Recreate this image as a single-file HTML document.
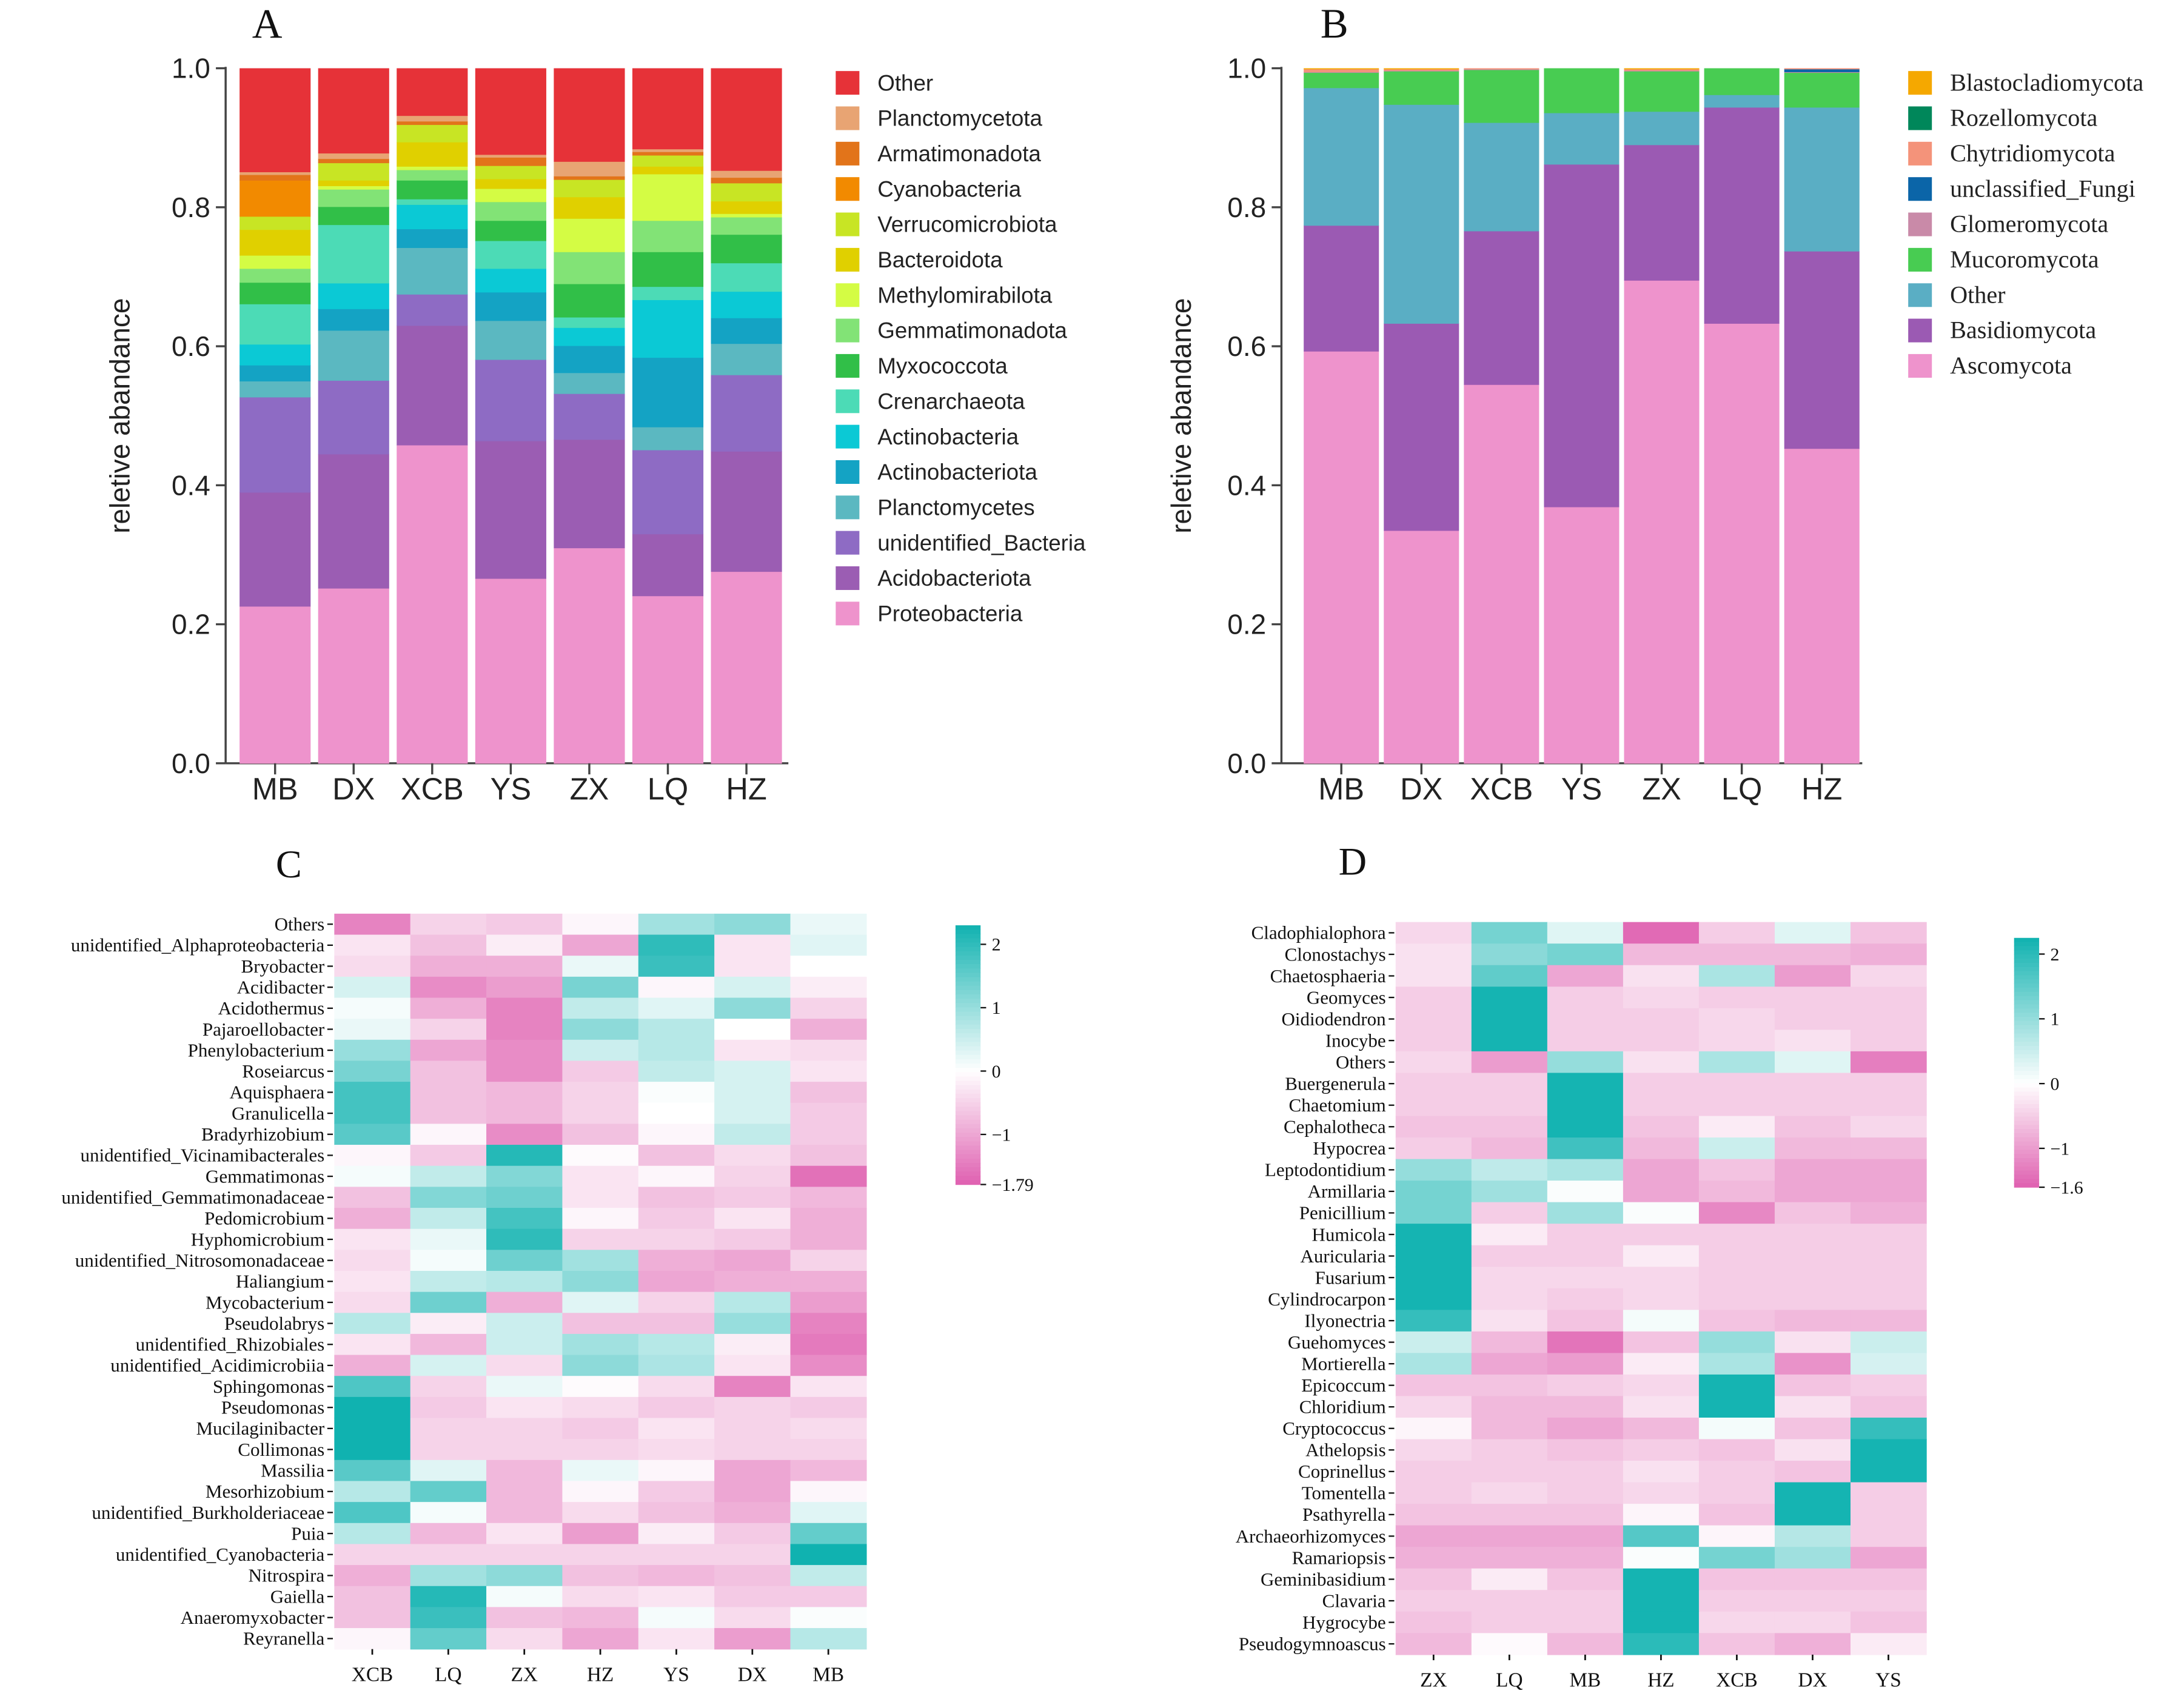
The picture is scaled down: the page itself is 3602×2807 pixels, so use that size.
<!DOCTYPE html>
<html><head><meta charset="utf-8"><style>
html,body{margin:0;padding:0;background:#fff;}
svg{display:block;}
.sans{font-family:"Liberation Sans",Arial,sans-serif;}
.serif{font-family:"Liberation Serif","Times New Roman",serif;}
</style></head><body>
<svg id="fig" xmlns="http://www.w3.org/2000/svg" width="3602" height="2807" viewBox="0 0 1568 1222" preserveAspectRatio="none">
<rect x="0" y="0" width="1568" height="1222" fill="#fff"/>
<g id="pa"></g>
<g id="pb"></g>
<g id="pc"></g>
<g id="pd"></g>
</svg>
<script>
// ---------- Panel A data ----------
const aSamples = ["MB","DX","XCB","YS","ZX","LQ","HZ"];
const aTaxa = ["Proteobacteria","Acidobacteriota","unidentified_Bacteria","Planctomycetes","Actinobacteriota","Actinobacteria","Crenarchaeota","Myxococcota","Gemmatimonadota","Methylomirabilota","Bacteroidota","Verrucomicrobiota","Cyanobacteria","Armatimonadota","Planctomycetota","Other"];
const aColors = ["#ee93cc","#9b5db3","#8e6bc4","#5bb8c1","#14a3c4","#0bc9d5","#4cdbb6","#31bf48","#82e376","#d4fc44","#e0d000","#c8e524","#f28a00","#e2741a","#e8a473","#e63238"];
const aMB  = [.226,.164,.137,.023,.023,.030,.058,.031,.020,.019,.037,.019,.052,.008,.004,.149];
const aDX  = [.252,.193,.106,.072,.031,.037,.084,.026,.025,.005,.008,.025,0,.006,.008,.122];
const aXCB = [.458,.172,.045,.067,.027,.035,.008,.027,.015,.005,.035,.025,0,.005,.008,.068];
const aYS  = [.266,.198,.117,.056,.041,.034,.040,.029,.027,.019,.014,.019,0,.012,.004,.124];
const aZX  = [.310,.156,.066,.030,.039,.026,.015,.048,.046,.048,.031,.025,0,.005,.021,.134];
const aLQ  = [.241,.089,.121,.033,.100,.083,.019,.050,.045,.067,.011,.016,0,.005,.004,.116];
const aHZ  = [.276,.173,.110,.045,.037,.038,.041,.041,.025,.005,.018,.026,0,.008,.010,.147];
const aValues = [aMB,aDX,aXCB,aYS,aZX,aLQ,aHZ];
const yTicks = ["0.0","0.2","0.4","0.6","0.8","1.0"];

// ---------- Panel B data ----------
const bSamples = ["MB","DX","XCB","YS","ZX","LQ","HZ"];
const bTaxa = ["Ascomycota","Basidiomycota","Other","Mucoromycota","Glomeromycota","unclassified_Fungi","Chytridiomycota","Rozellomycota","Blastocladiomycota"];
const bColors = ["#ee93cc","#9b5ab3","#5aaec4","#48cc52","#c98aa8","#0b65a8","#f4937a","#00875a","#f5a800"];
const bMB  = [.593,.181,.198,.022,.001,0,.004,0,.001];
const bDX  = [.335,.298,.315,.048,.001,0,.002,0,.001];
const bXCB = [.545,.221,.156,.076,.001,0,.001,0,0];
const bYS  = [.369,.493,.074,.064,0,0,0,0,0];
const bZX  = [.695,.195,.048,.058,.001,0,.002,0,.001];
const bLQ  = [.633,.311,.018,.038,0,0,0,0,0];
const bHZ  = [.453,.284,.207,.050,.001,.004,.001,0,0];
const bValues = [bMB,bDX,bXCB,bYS,bZX,bLQ,bHZ];

// ---------- Panel C data ----------
const cCols = ["XCB","LQ","ZX","HZ","YS","DX","MB"];
const cRows = ["Others","unidentified_Alphaproteobacteria","Bryobacter","Acidibacter","Acidothermus","Pajaroellobacter","Phenylobacterium","Roseiarcus","Aquisphaera","Granulicella","Bradyrhizobium","unidentified_Vicinamibacterales","Gemmatimonas","unidentified_Gemmatimonadaceae","Pedomicrobium","Hyphomicrobium","unidentified_Nitrosomonadaceae","Haliangium","Mycobacterium","Pseudolabrys","unidentified_Rhizobiales","unidentified_Acidimicrobiia","Sphingomonas","Pseudomonas","Mucilaginibacter","Collimonas","Massilia","Mesorhizobium","unidentified_Burkholderiaceae","Puia","unidentified_Cyanobacteria","Nitrospira","Gaiella","Anaeromyxobacter","Reyranella"];
const cZ = [
[-1.4,-0.5,-0.6,-0.1,0.9,1.1,0.2],
[-0.3,-0.7,-0.2,-1.0,2.0,-0.3,0.3],
[-0.4,-0.9,-0.9,0.2,1.9,-0.3,0],
[0.4,-1.3,-1.1,1.3,-0.1,0.4,-0.2],
[0.1,-0.9,-1.4,0.6,0.3,1.1,-0.5],
[0.2,-0.5,-1.4,1.1,0.7,0,-0.9],
[1.0,-1.0,-1.3,0.5,0.7,-0.3,-0.4],
[1.3,-0.7,-1.3,-0.6,0.6,0.4,-0.3],
[1.8,-0.7,-0.8,-0.5,0.05,0.4,-0.7],
[1.8,-0.7,-0.8,-0.5,0,0.4,-0.6],
[1.6,-0.1,-1.3,-0.7,-0.1,0.6,-0.6],
[-0.1,-0.6,2.1,-0.05,-0.7,-0.4,-0.7],
[0.1,0.6,1.2,-0.3,-0.1,-0.5,-1.6],
[-0.7,1.2,1.4,-0.3,-0.7,-0.6,-0.8],
[-0.9,0.6,1.8,-0.1,-0.6,-0.3,-0.9],
[-0.3,0.2,2.0,-0.5,-0.5,-0.6,-0.9],
[-0.4,0.1,1.4,0.9,-0.9,-1.0,-0.5],
[-0.3,0.6,0.7,1.1,-1.0,-0.9,-0.9],
[-0.4,1.4,-0.9,0.3,-0.5,0.7,-1.1],
[0.7,-0.2,0.5,-0.7,-0.7,1.0,-1.4],
[-0.3,-0.8,0.5,0.9,0.7,-0.2,-1.5],
[-0.9,0.4,-0.4,1.1,0.8,-0.3,-1.3],
[1.7,-0.5,0.2,-0.05,-0.4,-1.4,-0.3],
[2.3,-0.6,-0.3,-0.4,-0.6,-0.5,-0.6],
[2.3,-0.5,-0.5,-0.6,-0.3,-0.5,-0.4],
[2.3,-0.5,-0.5,-0.5,-0.4,-0.5,-0.5],
[1.6,0.3,-0.8,0.2,-0.1,-1.0,-0.8],
[0.7,1.5,-0.8,-0.1,-0.6,-1.0,-0.1],
[1.7,0.1,-0.8,-0.4,-0.7,-0.9,0.3],
[0.7,-0.8,-0.3,-1.1,-0.2,-0.6,1.5],
[-0.5,-0.5,-0.5,-0.5,-0.5,-0.5,2.3],
[-0.9,0.9,1.1,-0.7,-0.8,-0.7,0.6],
[-0.7,2.1,0.1,-0.4,-0.3,-0.6,-0.6],
[-0.7,1.9,-0.7,-0.8,0.1,-0.4,0.05],
[-0.1,1.5,-0.4,-1.0,-0.3,-1.1,0.7]];
const cTicks = ["2","1","0","-1","-1.79"];
const cTickVals = [2,1,0,-1,-1.79];

// ---------- Panel D data ----------
const dCols = ["ZX","LQ","MB","HZ","XCB","DX","YS"];
const dRows = ["Cladophialophora","Clonostachys","Chaetosphaeria","Geomyces","Oidiodendron","Inocybe","Others","Buergenerula","Chaetomium","Cephalotheca","Hypocrea","Leptodontidium","Armillaria","Penicillium","Humicola","Auricularia","Fusarium","Cylindrocarpon","Ilyonectria","Guehomyces","Mortierella","Epicoccum","Chloridium","Cryptococcus","Athelopsis","Coprinellus","Tomentella","Psathyrella","Archaeorhizomyces","Ramariopsis","Geminibasidium","Clavaria","Hygrocybe","Pseudogymnoascus"];
const dZ = [
[-0.4,1.3,0.3,-1.5,-0.5,0.3,-0.6],
[-0.3,1.1,1.3,-0.7,-0.7,-0.7,-0.8],
[-0.3,1.5,-0.9,-0.3,0.8,-1.0,-0.4],
[-0.5,2.2,-0.5,-0.4,-0.5,-0.5,-0.5],
[-0.5,2.2,-0.5,-0.5,-0.4,-0.5,-0.5],
[-0.5,2.2,-0.5,-0.5,-0.4,-0.3,-0.5],
[-0.4,-1.0,1.0,-0.3,0.8,0.3,-1.3],
[-0.5,-0.5,2.2,-0.5,-0.5,-0.5,-0.5],
[-0.5,-0.5,2.2,-0.5,-0.5,-0.5,-0.5],
[-0.6,-0.6,2.2,-0.6,-0.2,-0.6,-0.4],
[-0.5,-0.7,1.8,-0.7,0.5,-0.7,-0.7],
[1.0,0.6,0.8,-0.9,-0.6,-0.9,-0.9],
[1.3,0.9,0.05,-0.9,-0.7,-0.9,-0.9],
[1.3,-0.5,0.9,0.05,-1.2,-0.6,-0.8],
[2.2,-0.2,-0.5,-0.5,-0.5,-0.5,-0.5],
[2.2,-0.5,-0.5,-0.2,-0.5,-0.5,-0.5],
[2.2,-0.4,-0.4,-0.4,-0.5,-0.5,-0.5],
[2.2,-0.4,-0.5,-0.4,-0.5,-0.5,-0.5],
[1.9,-0.3,-0.6,0.1,-0.6,-0.7,-0.7],
[0.5,-0.7,-1.4,-0.6,1.0,-0.3,0.5],
[0.8,-0.9,-1.0,-0.2,0.8,-1.1,0.4],
[-0.6,-0.6,-0.5,-0.4,2.2,-0.6,-0.5],
[-0.4,-0.7,-0.7,-0.3,2.2,-0.3,-0.6],
[-0.1,-0.7,-0.9,-0.7,0.1,-0.6,1.9],
[-0.4,-0.5,-0.6,-0.5,-0.6,-0.3,2.2],
[-0.5,-0.5,-0.5,-0.3,-0.5,-0.6,2.2],
[-0.5,-0.4,-0.5,-0.4,-0.5,2.2,-0.5],
[-0.6,-0.6,-0.6,-0.1,-0.6,2.2,-0.5],
[-0.9,-0.9,-0.9,1.6,-0.1,0.7,-0.5],
[-0.8,-0.8,-0.8,0.05,1.3,0.9,-0.9],
[-0.6,-0.2,-0.6,2.2,-0.6,-0.6,-0.6],
[-0.5,-0.5,-0.5,2.2,-0.5,-0.5,-0.5],
[-0.6,-0.5,-0.5,2.2,-0.4,-0.4,-0.6],
[-0.7,-0.05,-0.7,2.0,-0.6,-0.8,-0.2]];
const dTicks = ["2","1","0","-1","-1.6"];
const dTickVals = [2,1,0,-1,-1.6];

const NS = "http://www.w3.org/2000/svg";
function mk(tag, attrs, parent, text){
  const e = document.createElementNS(NS, tag);
  for (const k in attrs) e.setAttribute(k, attrs[k]);
  if (text !== undefined) e.textContent = text;
  parent.appendChild(e);
  return e;
}
function lerp(a,b,t){return Math.round(a+(b-a)*t);}
function heatColor(v, vmin, vmax){
  if (v >= 0){ const t=Math.min(1,v/vmax); return `rgb(${lerp(255,16,t)},${lerp(255,178,t)},${lerp(255,176,t)})`; }
  const t=Math.min(1,v/vmin); return `rgb(${lerp(255,223,t)},${lerp(255,96,t)},${lerp(255,176,t)})`;
}

// ---------- stacked bar drawing ----------
function stacked(g, cfg){
  const y = v => cfg.y0 - (cfg.y0-cfg.y1)*v;
  const ax = mk('line',{x1:cfg.ax,y1:cfg.y1-1,x2:cfg.ax,y2:cfg.y0,stroke:'#444','stroke-width':1.5},g);
   
  const xl = mk('line',{x1:cfg.ax,y1:cfg.y0,x2:cfg.axEnd,y2:cfg.y0,stroke:'#444','stroke-width':1.5},g);
   
  yTicks.forEach((t,i)=>{
    const v=i/5;
    const tk = mk('line',{x1:cfg.ax-7,y1:y(v),x2:cfg.ax,y2:y(v),stroke:'#444','stroke-width':1.5},g);
     
    const tl = mk('text',{x:cfg.ax-11,y:y(v)+7,'text-anchor':'end','font-size':20,fill:'#222',class:'sans'},g,t);
     
  });
  const yt = mk('text',{x:0,y:0,transform:`translate(${cfg.ytx},${(cfg.y0+cfg.y1)/2}) rotate(-90)`,'text-anchor':'middle','font-size':20,fill:'#222',class:'sans'},g,'reletive abandance');
   
  cfg.samples.forEach((s,i)=>{
    const bx = cfg.bx + cfg.pitch*i;
    let acc = 0;
    cfg.values[i].forEach((v,j)=>{
      if (v<=0) return;
      const top = (j===cfg.values[i].length-1) ? 1 : acc+v;
      const r = mk('rect',{x:bx,y:y(top),width:cfg.bw,height:y(acc)-y(top)+0.3,fill:cfg.colors[j]},g);
      
      
      acc += v;
    });
    const cx = bx+cfg.bw/2;
    const tk = mk('line',{x1:cx,y1:cfg.y0,x2:cx,y2:cfg.y0+8,stroke:'#444','stroke-width':1.5},g);
     
    const tl = mk('text',{x:cx,y:cfg.y0+26,'text-anchor':'middle','font-size':22,fill:'#222',class:'sans'},g,s);
     
  });
  const n = cfg.taxa.length;
  for (let k=0;k<n;k++){
    const j = n-1-k;
    const ly = cfg.ly + cfg.lsp*k;
    const sw = mk('rect',{x:cfg.lx,y:ly-8,width:17,height:17,fill:cfg.colors[j]},g);
     
    const lt = mk('text',{x:cfg.lx+30,y:ly+6,'font-size':cfg.lfs,fill:'#222',class:cfg.lclass},g,cfg.taxa[j]);
     
  }
  const tt = mk('text',{x:cfg.tx,y:27,'font-size':30,fill:'#111',class:'serif'},g,cfg.title);
   
}

stacked(document.getElementById('pa'),{samples:aSamples,values:aValues,taxa:aTaxa,colors:aColors,
  y0:548,y1:49,ax:162,axEnd:566,bx:172,pitch:56.4,bw:51,ytx:93,lx:600,ly:59,lsp:25.4,lfs:16,lclass:'sans',tx:181,title:'A'});
stacked(document.getElementById('pb'),{samples:bSamples,values:bValues,taxa:bTaxa,colors:bColors,
  y0:548,y1:49,ax:920,axEnd:1337,bx:936,pitch:57.5,bw:54,ytx:855,lx:1370,ly:59,lsp:25.4,lfs:17.5,lclass:'serif',tx:948,title:'B'});

// ---------- heatmap drawing ----------
function heat(g, cfg){
  const nr = cfg.rows.length, nc = cfg.cols.length;
  const cw = (cfg.x1-cfg.x0)/nc, rh = (cfg.y1-cfg.y0)/nr;
  cfg.z.forEach((row,i)=>{
    row.forEach((v,j)=>{
      const r = mk('rect',{x:cfg.x0+j*cw,y:cfg.y0+i*rh,width:cw+0.3,height:rh+0.3,fill:heatColor(v,cfg.vmin,cfg.vmax)},g);
      
      
    });
  });
  cfg.rows.forEach((name,i)=>{
    const cy = cfg.y0+(i+0.5)*rh;
    const tk = mk('line',{x1:cfg.x0-5,y1:cy,x2:cfg.x0-1,y2:cy,stroke:'#111','stroke-width':1},g);
     
    const t = mk('text',{x:cfg.x0-7,y:cy+4.5,'text-anchor':'end','font-size':13.5,fill:'#111',class:'serif'},g,name);
     
  });
  cfg.cols.forEach((name,j)=>{
    const cx = cfg.x0+(j+0.5)*cw;
    const tk = mk('line',{x1:cx,y1:cfg.y1,x2:cx,y2:cfg.y1+4,stroke:'#111','stroke-width':1.2},g);
     
    const t = mk('text',{x:cx,y:cfg.y1+23,'text-anchor':'middle','font-size':14.5,fill:'#111',class:'serif'},g,name);
     
  });
  const cbv = v => cfg.cb0 - (v)*cfg.cbUnit;
  const steps = 60;
  for (let k=0;k<steps;k++){
    const v1 = cfg.vmax - (cfg.vmax-cfg.vmin)*k/steps;
    const v2 = cfg.vmax - (cfg.vmax-cfg.vmin)*(k+1)/steps;
    const r = mk('rect',{x:cfg.cbx,y:cbv(v1),width:18,height:cbv(v2)-cbv(v1)+0.3,fill:heatColor((v1+v2)/2,cfg.vmin,cfg.vmax)},g);
     
  }
  cfg.ticks.forEach((t,k)=>{
    const yy = cbv(cfg.tickVals[k]);
    const tk = mk('line',{x1:cfg.cbx+18,y1:yy,x2:cfg.cbx+22,y2:yy,stroke:'#111','stroke-width':1},g);
     
    const tl = mk('text',{x:cfg.cbx+26,y:yy+4.5,'font-size':13,fill:'#111',class:'serif'},g,t.replace('-','\u2212'));
     
  });
  const tt = mk('text',{x:cfg.tx,y:cfg.ty,'font-size':28,fill:'#111',class:'serif'},g,cfg.title);
   
}

heat(document.getElementById('pc'),{rows:cRows,cols:cCols,z:cZ,x0:240,x1:622,y0:656,y1:1184,vmin:-1.79,vmax:2.3,
  cbx:686,cb0:769,cbUnit:45.5,ticks:cTicks,tickVals:cTickVals,tx:198,ty:630,title:'C'});
heat(document.getElementById('pd'),{rows:dRows,cols:dCols,z:dZ,x0:1002,x1:1383,y0:662,y1:1188,vmin:-1.6,vmax:2.25,
  cbx:1446,cb0:778,cbUnit:46.5,ticks:dTicks,tickVals:dTickVals,tx:961,ty:628,title:'D'});
</script>
</body></html>
